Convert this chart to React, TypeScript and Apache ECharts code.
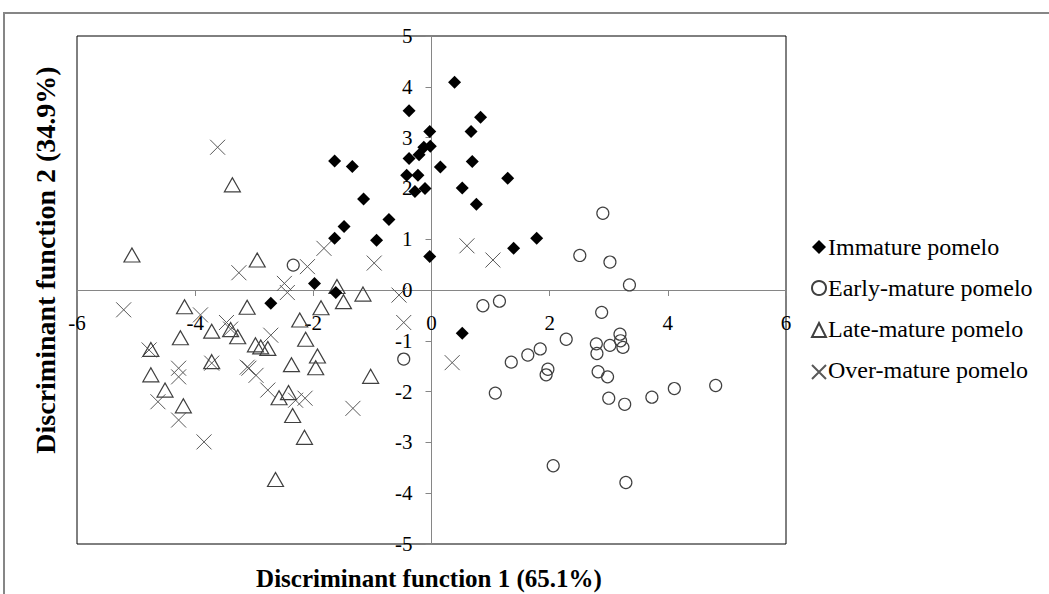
import React, { useEffect, useRef } from "react";
import * as echarts from "echarts";

const seriesNames = ["Immature pomelo", "Early-mature pomelo", "Late-mature pomelo", "Over-mature pomelo"];
const xTicks = [-6, -4, -2, 0, 2, 4, 6];
const yTicks = [-5, -4, -3, -2, -1, 0, 1, 2, 3, 4, 5];

const immature = [
  [-0.38, 3.53], [-0.03, 3.12], [-0.13, 2.81], [-0.02, 2.83], [-0.21, 2.66], [-0.38, 2.59],
  [-0.42, 2.26], [-0.23, 2.26], [-0.28, 1.94], [-0.11, 2.0], [0.15, 2.42], [0.39, 4.09],
  [0.83, 3.4], [0.67, 3.12], [0.69, 2.53], [1.29, 2.2], [0.52, 2.01], [0.76, 1.69],
  [1.39, 0.82], [1.78, 1.02], [-0.03, 0.66], [0.52, -0.85], [-1.64, 2.54], [-1.34, 2.43],
  [-1.15, 1.79], [-0.72, 1.39], [-1.48, 1.25], [-1.64, 1.02], [-0.93, 0.98], [-1.98, 0.13],
  [-1.62, -0.05], [-2.72, -0.26],
];

const earlyMature = [
  [2.9, 1.51], [2.51, 0.68], [3.02, 0.55], [3.35, 0.1], [-2.34, 0.49], [0.87, -0.31],
  [1.15, -0.22], [2.88, -0.44], [2.28, -0.97], [3.19, -0.87], [3.2, -1.0], [3.24, -1.13],
  [3.02, -1.09], [2.79, -1.06], [2.8, -1.25], [1.84, -1.16], [1.63, -1.28], [1.35, -1.42],
  [1.97, -1.56], [1.94, -1.67], [2.82, -1.61], [2.98, -1.71], [1.08, -2.03], [3.0, -2.13],
  [3.27, -2.25], [3.73, -2.11], [4.11, -1.94], [4.81, -1.88], [2.06, -3.46], [3.29, -3.79],
  [-0.47, -1.36],
];

const lateMature = [
  [-3.37, 2.07], [-5.07, 0.69], [-2.95, 0.59], [-1.6, 0.07], [-1.49, -0.23], [-1.16, -0.08],
  [-1.87, -0.35], [-3.12, -0.34], [-2.23, -0.59], [-2.13, -0.97], [-1.93, -1.3], [-1.96, -1.53],
  [-2.37, -1.47], [-1.03, -1.7], [-2.42, -2.02], [-2.58, -2.12], [-2.35, -2.47], [-2.15, -2.9],
  [-2.64, -3.73], [-4.18, -0.33], [-4.25, -0.94], [-3.72, -0.81], [-3.4, -0.78], [-3.28, -0.92],
  [-2.98, -1.08], [-2.89, -1.12], [-2.77, -1.15], [-4.75, -1.17], [-4.75, -1.67], [-4.51, -1.97],
  [-4.2, -2.28], [-3.72, -1.41],
];

const overMature = [
  [-3.62, 2.81], [-3.26, 0.34], [-1.82, 0.82], [-2.1, 0.46], [-0.97, 0.53], [-2.49, 0.13],
  [-2.44, -0.05], [-0.55, -0.1], [-0.47, -0.64], [-2.72, -0.89], [-3.09, -1.54], [-2.97, -1.68],
  [-2.77, -1.97], [-2.3, -2.17], [-2.14, -2.13], [-1.33, -2.33], [-5.21, -0.39], [-3.91, -0.49],
  [-3.47, -0.64], [-3.4, -0.77], [-4.78, -1.18], [-4.28, -1.54], [-4.28, -1.71], [-3.72, -1.44],
  [-3.12, -1.52], [-4.63, -2.2], [-4.28, -2.56], [-3.85, -2.99], [0.6, 0.87], [1.04, 0.59],
  [0.35, -1.43],
];

const FONT = "Liberation Serif";

export default function App() {
  const ref = useRef<HTMLDivElement>(null);
  useEffect(() => {
    document.body.style.margin = "0";
    const chart = echarts.init(ref.current!, null, { renderer: "svg" });
    const gridLeft = 77, gridTop = 36, gridW = 709, gridH = 508;
    const xMin = xTicks[0], xMax = xTicks[xTicks.length - 1];
    const yMin = yTicks[0], yMax = yTicks[yTicks.length - 1];
    // move axes so they cross at the origin (labels follow the axis line)
    const xAxisOffset = -((0 - yMin) / (yMax - yMin)) * gridH;
    const yAxisOffset = -((0 - xMin) / (xMax - xMin)) * gridW;
    const axisLine = { show: true, onZero: false, lineStyle: { color: "#868686", width: 1 } };
    const crossPath = "path://M0,0L16,16M16,0L0,16";

    // legend layout: icons by the legend component, labels as serif texts beside them
    const legendLeft = 806, iconSize = 14;
    const rowCenter0 = 247, rowStep = 41;
    const legendTop = rowCenter0 - 12;
    const rowGap = rowStep - 15;
    const legendLabels = seriesNames.map((name, i) => ({
      type: "text",
      x: legendLeft + iconSize + 8,
      y: rowCenter0 + i * rowStep,
      style: {
        text: name, fontFamily: FONT, fontSize: 24, fill: "#000",
        align: "left", verticalAlign: "middle",
      },
    }));

    chart.setOption({
      animation: false,
      backgroundColor: "#fff",
      textStyle: { fontFamily: FONT },
      grid: {
        left: gridLeft, top: gridTop, width: gridW, height: gridH,
        show: true, borderColor: "#000", borderWidth: 1, backgroundColor: "transparent",
      },
      xAxis: {
        type: "value", position: "bottom", offset: xAxisOffset,
        min: xMin, max: xMax, interval: 2,
        axisLine,
        axisTick: { show: true, length: 6, lineStyle: { color: "#868686" } },
        splitLine: { show: false },
        axisLabel: { fontFamily: FONT, fontSize: 21, color: "#000", margin: 22 },
      },
      yAxis: {
        type: "value", position: "left", offset: yAxisOffset,
        min: yMin, max: yMax, interval: 1,
        axisLine,
        axisTick: { show: true, length: 6, lineStyle: { color: "#868686" } },
        splitLine: { show: false },
        axisLabel: { fontFamily: FONT, fontSize: 21, color: "#000", margin: 19 },
      },
      legend: {
        orient: "vertical", left: legendLeft, top: legendTop, itemGap: rowGap,
        itemWidth: iconSize, itemHeight: iconSize,
        formatter: () => "",
        data: seriesNames,
      },
      graphic: [
        {
          type: "rect", silent: true, z: -1,
          shape: { x: 4, y: 13, width: 1100, height: 700 },
          style: { fill: "none", stroke: "#868686", lineWidth: 2 },
        },
        {
          type: "text", x: 429, y: 578,
          style: {
            text: "Discriminant function 1 (65.1%)", fontFamily: FONT, fontSize: 25,
            fontWeight: "bold", fill: "#000", align: "center", verticalAlign: "middle",
          },
        },
        {
          type: "text", x: 45, y: 260, rotation: Math.PI / 2,
          style: {
            text: "Discriminant function 2 (34.9%)", fontFamily: FONT, fontSize: 28,
            fontWeight: "bold", fill: "#000", align: "center", verticalAlign: "middle",
          },
        },
        ...legendLabels,
      ],
      series: [
        {
          name: seriesNames[0], type: "scatter", data: immature, symbol: "diamond", symbolSize: 13,
          itemStyle: { color: "#000", opacity: 1 }, z: 4,
        },
        {
          name: seriesNames[1], type: "scatter", data: earlyMature, symbol: "circle", symbolSize: 12,
          itemStyle: { color: "transparent", borderColor: "#404040", borderWidth: 1.2, opacity: 1 }, z: 3,
        },
        {
          name: seriesNames[2], type: "scatter", data: lateMature, symbol: "triangle", symbolSize: [16, 14],
          itemStyle: { color: "transparent", borderColor: "#404040", borderWidth: 1.2, opacity: 1 }, z: 2,
        },
        {
          name: seriesNames[3], type: "scatter", data: overMature, symbol: crossPath, symbolSize: 15,
          itemStyle: { color: "transparent", borderColor: "#595959", borderWidth: 1, opacity: 1 }, z: 1,
        },
      ],
    });
    return () => chart.dispose();
  }, []);
  return <div ref={ref} style={{ width: 1049, height: 594 }} />;
}
